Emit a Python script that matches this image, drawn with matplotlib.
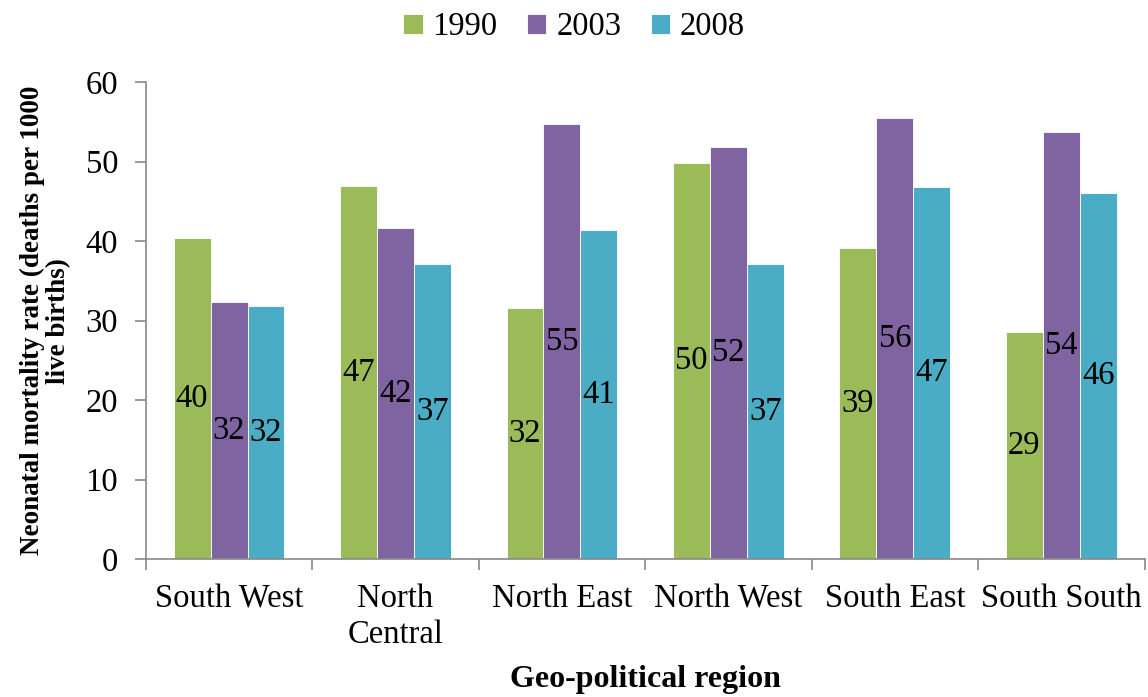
import numpy as np
import matplotlib
matplotlib.use("Agg")
import matplotlib.pyplot as plt

regions = ["South West", "North\nCentral", "North East", "North West", "South East", "South South"]
years = ["1990", "2003", "2008"]
v1990 = [40.4, 47.0, 31.6, 49.8, 39.1, 28.6]
v2003 = [32.4, 41.6, 54.8, 51.9, 55.5, 53.8]
v2008 = [31.8, 37.1, 41.4, 37.1, 46.8, 46.0]
colors = ["#9BBB59", "#8064A2", "#4BACC6"]

plt.rcParams['font.family'] = ['Liberation Serif', 'DejaVu Serif']
fs = 23.5

fig = plt.figure(figsize=(11.48, 6.97), dpi=100)
ax = fig.add_axes([0.127, 0.198, 0.87, 0.684])

x = np.arange(len(regions))
w = 0.222
for i, (vals, col, lab) in enumerate(zip([v1990, v2003, v2008], colors, years)):
    bars = ax.bar(x + (i - 1) * w, vals, w, color=col, label=lab,
                  edgecolor="white", linewidth=0.6)
    for b, v in zip(bars, vals):
        ax.text(b.get_x() + b.get_width() / 2, v / 2, f"{v:.0f}",
                ha="center", va="center", fontsize=fs)

ax.set_xlim(-0.5, len(regions) - 0.5)
ax.set_ylim(0, 60)
ax.set_yticks(range(0, 61, 10))
ax.set_xticks(x)
ax.set_xticklabels(regions, fontsize=fs, linespacing=1.2)
ax.set_xticks(np.arange(-0.5, len(regions), 1), minor=True)
ax.tick_params(axis="x", which="major", length=0, pad=18)
ax.tick_params(axis="x", which="minor", length=8, color="#888888", width=1.2)
ax.tick_params(axis="y", length=8, color="#888888", width=1.2, labelsize=fs, pad=12)

for s in ["top", "right"]:
    ax.spines[s].set_visible(False)
for s in ["left", "bottom"]:
    ax.spines[s].set_color("#888888")
    ax.spines[s].set_linewidth(1.2)

ax.set_ylabel("Neonatal mortality rate (deaths per 1000\nlive births)",
              fontsize=19.5, fontweight="bold", labelpad=10, linespacing=1.1)
ax.set_xlabel("Geo-political region", fontsize=23, fontweight="bold", labelpad=11)

fig.legend(loc="upper center", bbox_to_anchor=(0.5, 1.025), ncol=3, frameon=False,
           fontsize=fs, handlelength=0.6, handleheight=0.6, handletextpad=0.3,
           columnspacing=0.9)

fig.savefig("out.png", dpi=100)
